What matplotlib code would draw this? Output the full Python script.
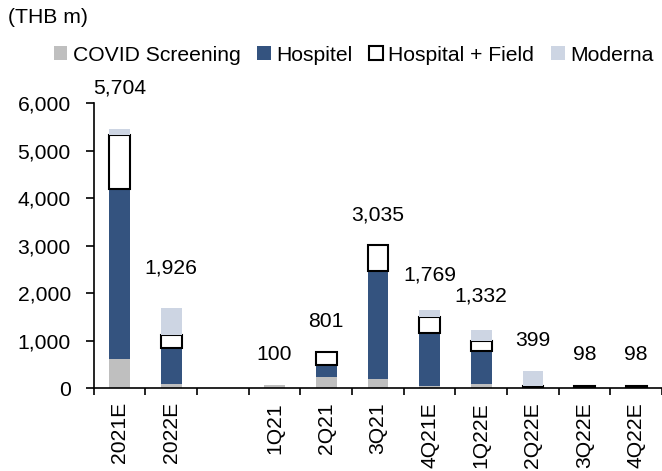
import numpy as np
import matplotlib.pyplot as plt

plt.rcParams['font.family'] = ['Liberation Sans', 'DejaVu Sans']

categories = ['2021E', '2022E', '', '1Q21', '2Q21', '3Q21', '4Q21E', '1Q22E', '2Q22E', '3Q22E', '4Q22E']
covid_screening = [610, 90, 0, 60, 230, 190, 40, 100, 0, 0, 0]
hospitel = [3580, 750, 0, 0, 260, 2280, 1120, 690, 0, 0, 0]
hospital_field = [1140, 280, 0, 0, 270, 550, 350, 210, 45, 45, 45]
moderna = [125, 560, 0, 0, 0, 0, 140, 230, 320, 0, 0]
totals = [5704, 1926, None, 100, 801, 3035, 1769, 1332, 399, 98, 98]

c_grey = '#BFBFBF'
c_blue = '#34537F'
c_light = '#CDD5E3'
fs = 15.2

fig = plt.figure(figsize=(6.62, 4.71), dpi=100)
ax = fig.add_axes([0.1415, 0.1756, 0.8585, 0.6051])

x = np.arange(len(categories))
w = 0.4
b1 = np.array(covid_screening)
b2 = b1 + np.array(hospitel)
b3 = b2 + np.array(hospital_field)

ax.bar(x, covid_screening, w, color=c_grey, label='COVID Screening')
ax.bar(x, hospitel, w, bottom=b1, color=c_blue, label='Hospitel')
# no outline where the segment is empty
edge_w = [1.5 if v > 0 else 0 for v in hospital_field]
ax.bar(x, hospital_field, w, bottom=b2, color='white', edgecolor='black',
       linewidth=edge_w, label='Hospital + Field')
ax.bar(x, moderna, w, bottom=b3, color=c_light, label='Moderna')

# data labels above the stacks
for xi, t in zip(x, totals):
    if t is None:
        continue
    ax.text(xi, t + 610, f'{t:,}', ha='center', va='center', fontsize=fs, clip_on=False)

ax.set_xlim(-0.5, len(categories) - 0.5)
ax.set_ylim(0, 6000)
ax.set_yticks(range(0, 6001, 1000))
ax.set_yticklabels([f'{v:,}' for v in range(0, 6001, 1000)], fontsize=fs)
ax.set_xticks(x)
ax.set_xticklabels(categories, rotation=90, fontsize=fs)
ax.set_xticks(np.arange(-0.5, len(categories)), minor=True)
ax.tick_params(axis='x', which='major', length=0, pad=10)
ax.tick_params(axis='x', which='minor', length=5, width=1.2, direction='out')
ax.tick_params(axis='y', length=5.5, width=1.2, direction='out', pad=11)

for s in ['top', 'right']:
    ax.spines[s].set_visible(False)
ax.spines['left'].set_linewidth(1.2)
ax.spines['bottom'].set_linewidth(1.2)

fig.text(0.012, 0.962, '(THB m)', fontsize=fs, va='center', ha='left')
leg = fig.legend(loc='center', bbox_to_anchor=(0.534, 0.883), ncol=4, frameon=False,
                 fontsize=fs, handlelength=0.65, handleheight=0.65, handletextpad=0.25,
                 columnspacing=0.8, borderaxespad=0)
leg.legend_handles[2].set_linewidth(1.5)

fig.savefig('out.png', dpi=100)
